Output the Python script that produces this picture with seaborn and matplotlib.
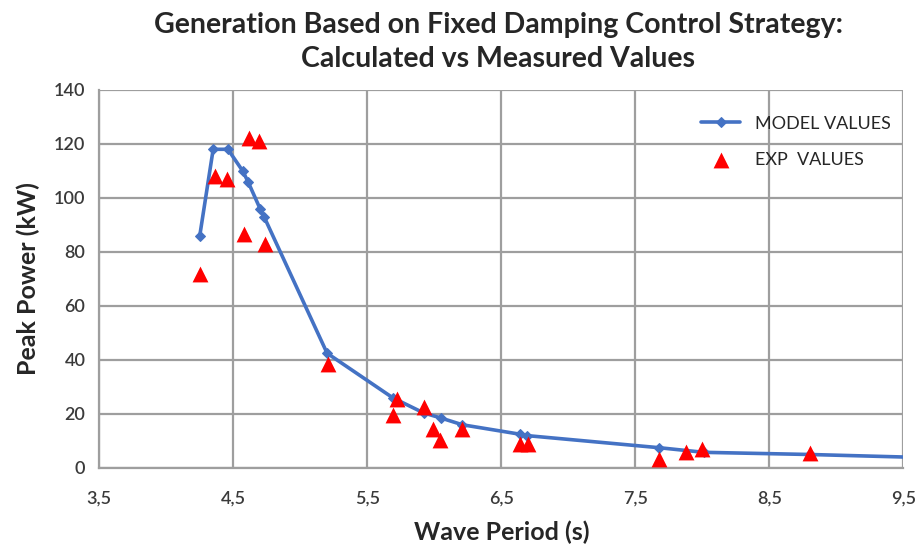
import matplotlib
matplotlib.use("Agg")
import matplotlib.pyplot as plt
import seaborn as sns
import pandas as pd

# ---- data ----
model_period = [4.25, 4.35, 4.46, 4.57, 4.61, 4.70, 4.73, 5.20, 5.69, 5.92,
                6.05, 6.21, 6.64, 6.69, 7.68, 8.01, 8.80, 9.70]
model_power = [86, 118, 118, 110, 106, 96, 93, 42.5, 26, 20.4,
               18.5, 16, 12.5, 12, 7.5, 5.8, 5.0, 3.8]

exp_period = [4.25, 4.36, 4.45, 4.58, 4.62, 4.69, 4.74, 5.21, 5.69, 5.72,
              5.92, 5.99, 6.04, 6.21, 6.64, 6.70, 7.68, 7.88, 8.00, 8.80]
exp_power = [72, 108, 107, 86.5, 122, 121, 83, 38.5, 19.5, 25.5,
             22.5, 14.5, 10.5, 14.5, 9, 9, 3.5, 6, 7, 5.5]

x_ticks = [3.5, 4.5, 5.5, 6.5, 7.5, 8.5, 9.5]
x_tick_labels = ["3,5", "4,5", "5,5", "6,5", "7,5", "8,5", "9,5"]
y_ticks = [0, 20, 40, 60, 80, 100, 120, 140]

title = "Generation Based on Fixed Damping Control Strategy:\nCalculated vs Measured Values"
x_label = "Wave Period (s)"
y_label = "Peak Power (kW)"
model_name = "MODEL VALUES"
exp_name = "EXP  VALUES"

# ---- style ----
sns.set_style("white")
plt.rcParams["font.family"] = ["Lato", "DejaVu Sans"]

model_df = pd.DataFrame({"period": model_period, "power": model_power})
exp_df = pd.DataFrame({"period": exp_period, "power": exp_power})

fig = plt.figure(figsize=(9.19, 5.48), dpi=100)
ax = fig.add_axes([0.108, 0.146, 0.875, 0.690])

grid_c = "#9e9e9e"
sns.lineplot(data=model_df, x="period", y="power", ax=ax, color="#4472C4",
             linewidth=2.6, marker="D", markersize=5.5, markeredgecolor="#4472C4",
             label=model_name, zorder=3, sort=False)
sns.scatterplot(data=exp_df, x="period", y="power", ax=ax, color="#ff0000",
                marker="^", s=130, edgecolor="#ff0000", linewidth=0,
                label=exp_name, zorder=4)

ax.set_xlim(3.5, 9.5)
ax.set_ylim(0, 140)
ax.set_xticks(x_ticks)
ax.set_xticklabels(x_tick_labels)
ax.set_yticks(y_ticks)

ax.grid(True, color=grid_c, linewidth=1.6)
ax.set_axisbelow(True)
for s in ["top", "right"]:
    ax.spines[s].set_visible(False)
for s in ["left", "bottom"]:
    ax.spines[s].set_color(grid_c)
    ax.spines[s].set_linewidth(1.6)
ax.tick_params(axis="both", direction="out", length=6, width=1.4,
               color=grid_c, labelsize=13, labelcolor="#3a3a3a", pad=4)
ax.tick_params(axis="x", pad=10)
for lbl in ax.get_xticklabels() + ax.get_yticklabels():
    lbl.set_fontweight("semibold")

ax.set_xlabel(x_label, fontsize=18, fontweight="bold", labelpad=10)
ax.set_ylabel(y_label, fontsize=18, fontweight="bold", labelpad=10)
fig.suptitle(title, fontsize=20.5, fontweight="bold", y=0.978, linespacing=1.4,
             x=0.542)

leg = ax.legend(loc="upper right", frameon=False, fontsize=13,
                bbox_to_anchor=(1.0, 0.965), handlelength=2.2, labelspacing=1.1,
                borderaxespad=0.3)

fig.savefig("out.png", dpi=100)
